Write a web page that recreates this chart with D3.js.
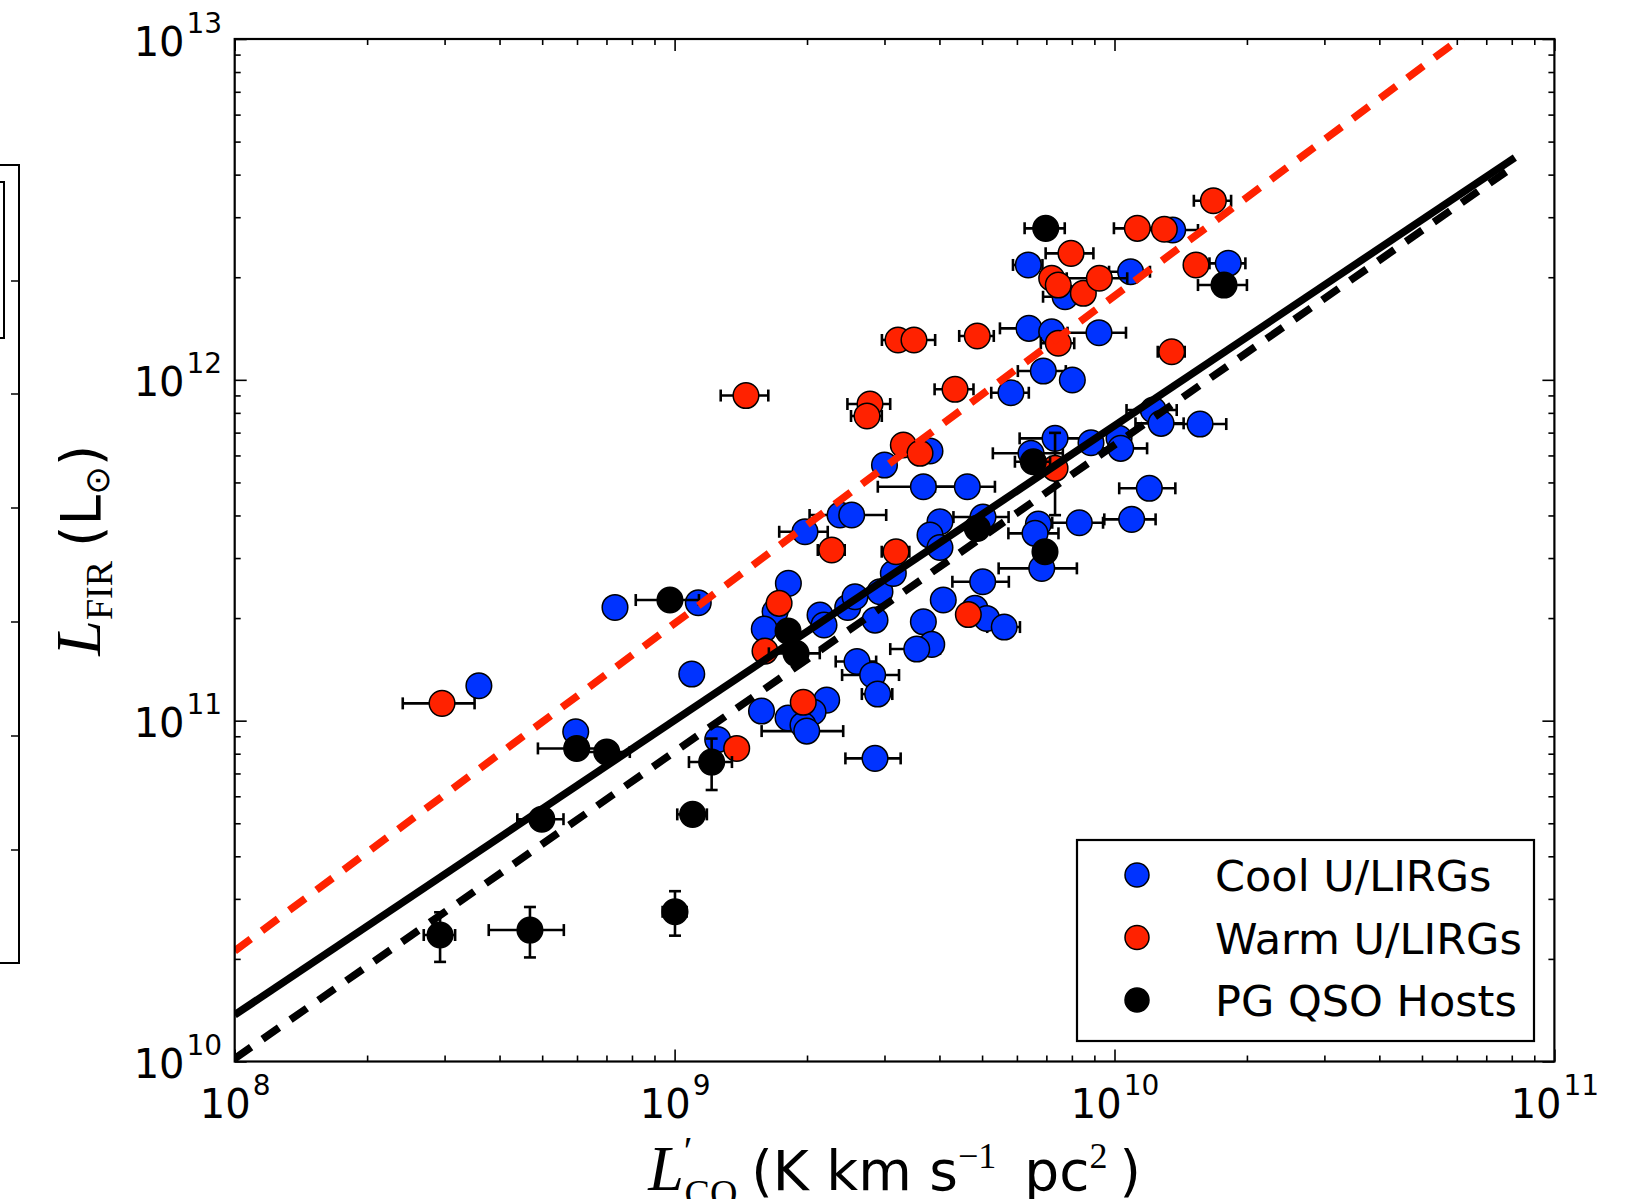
<!DOCTYPE html>
<html>
<head>
<meta charset="utf-8">
<script src="https://cdn.jsdelivr.net/npm/d3@7"></script>
<style>
  body { margin: 0; background: #fff; }
  svg { display: block; }
  text { font-family: "DejaVu Sans", sans-serif; fill: #000; }
  .serif { font-family: "Liberation Serif", "DejaVu Serif", serif; }
</style>
</head>
<body>
<div id="chart"></div>
<script>
// L'CO in units of 1e9 K km s^-1 pc^2, L_FIR in units of 1e11 Lsun, errors in the same units (0 = no bar)
const coolLco = [0.359, 0.596, 0.732, 1.132, 1.094, 1.814, 1.692, 1.599, 2.141, 2.186,
  2.475, 2.571, 2.598, 1.576, 2.217, 2.064, 1.811, 1.958, 1.997, 1.253,
  2.855, 2.82, 2.895, 2.93, 3.142, 2.855, 3.677, 3.842, 3.552, 4.081,
  4.818, 5.122, 5.616, 5.016, 4.011, 3.807, 4.011, 5.024, 1.979, 2.377,
  2.527, 3.677, 4.628, 3.0, 3.807, 6.46, 7.326, 8.843, 10.24, 10.33,
  12.25, 12.76, 15.65, 12.0, 8.318, 10.94, 6.713, 6.598, 6.833, 5.816,
  6.89, 8.02, 6.39, 7.198, 9.22, 6.368, 7.72, 10.88, 13.56, 18.14];
const coolLfir = [1.266, 0.928, 2.149, 2.218, 1.37, 2.528, 2.087, 1.857, 2.041, 1.908,
  2.149, 2.31, 1.491, 1.067, 1.149, 1.06, 1.018, 0.971, 0.932, 0.88,
  0.775, 1.361, 1.197, 2.389, 2.705, 1.973, 1.95, 1.674, 1.622, 2.259,
  2.135, 1.995, 1.882, 2.556, 3.833, 3.504, 3.221, 3.957, 3.583, 4.012,
  4.012, 4.857, 4.857, 5.623, 6.182, 6.087, 6.734, 6.537, 6.734, 6.295,
  8.154, 7.454, 7.418, 4.805, 3.808, 3.896, 3.775, 3.545, 2.798, 9.165,
  10.61, 9.986, 14.16, 13.84, 13.75, 21.73, 17.53, 20.76, 27.52, 21.97];
const coolLcoErr = [0, 0, 0, 0, 0, 0, 0, 0, 0, 0,
  0, 0, 0.274, 0, 0, 0, 0, 0, 0.42, 0,
  0.41, 0.417, 0.23, 0, 0, 0, 0, 0, 0.46, 0,
  0, 0, 0.48, 0.736, 0, 0, 0, 0.72, 0.25, 0,
  0.5, 0.78, 0.72, 0, 0, 1.17, 1.24, 0, 0, 1.53,
  1.6, 1.6, 2.3, 1.75, 1.1, 1.46, 0, 0.86, 1.38, 0.57,
  0.86, 0, 0.9, 0, 1.4, 0.49, 0.84, 1.16, 1.92, 1.7];

const warmLco = [0.296, 1.384, 1.728, 1.605, 1.961, 2.276, 3.187, 4.653, 3.311, 3.613,
  7.326, 1.453, 2.781, 2.738, 4.34, 3.22, 3.501, 4.876, 7.45, 13.49,
  7.198, 7.45, 8.495, 9.238, 7.964, 11.27, 12.98, 15.32, 16.78];
const warmLfir = [1.124, 0.829, 2.209, 1.6, 1.132, 3.168, 3.131, 2.048, 6.437, 6.087,
  5.499, 8.993, 8.492, 7.832, 9.38, 13.09, 13.09, 13.45, 12.8, 12.09,
  19.86, 18.97, 17.94, 19.86, 23.5, 27.83, 27.65, 21.73, 33.54];
const warmLcoErr = [0.055, 0, 0, 0, 0, 0.16, 0.23, 0, 0, 0,
  0, 0.18, 0.31, 0.22, 0.44, 0.26, 0.41, 0.44, 0.65, 0.95,
  0, 0, 0, 1.45, 0.99, 1.3, 0, 0, 1.63];
const warmLfirErr = [0, 0, 0, 0, 0, 0, 0, 0, 0, 0,
  1.49, 0, 0, 0, 0, 0, 0, 0, 0, 0,
  0, 0, 0, 0, 0, 0, 0, 0, 0];

const qsoLco = [0.293, 0.469, 1.002, 0.499, 0.599, 0.701, 0.976, 1.099, 1.214, 1.811,
  1.888, 4.876, 6.538, 6.95, 6.977, 17.74];
const qsoLfir = [0.235, 0.243, 0.275, 0.514, 0.829, 0.809, 2.259, 0.531, 0.756, 1.832,
  1.576, 3.667, 5.75, 3.131, 27.83, 18.97];
const qsoLcoErr = [0.024, 0.091, 0.063, 0.06, 0.11, 0.09, 0.16, 0.085, 0.136, 0,
  0.25, 0, 0.6, 0, 0.73, 2.26];
const qsoLfirErr = [0.039, 0.041, 0.041, 0, 0, 0, 0, 0, 0.13, 0,
  0, 0, 0, 0, 0, 0];

// fitted relations, end points
const fitLco = [1e8, 8.13e10];
const fitSolidBlack = [1.37e10, 4.49e12];
const fitDashedBlack = [1.02e10, 4.25e12];
const fitDashedRed = [2.11e10, 1.32e13];

const legendLabels = ["Cool U/LIRGs", "Warm U/LIRGs", "PG QSO Hosts"];
const xMajorTicks = [1e8, 1e9, 1e10, 1e11];
const yMajorTicks = [1e10, 1e11, 1e12, 1e13];

const width = 1646, height = 1199;
const plot = { left: 234.7, right: 1554.4, top: 39, bottom: 1061.5 };

const svg = d3.select("#chart").append("svg")
  .attr("width", width)
  .attr("height", height);

const x = d3.scaleLog().domain([1e8, 1e11]).range([plot.left, plot.right]);
const y = d3.scaleLog().domain([1e10, 1e13]).range([plot.bottom, plot.top]);

const isMajor = (d) => Math.abs(Math.log10(d) - Math.round(Math.log10(d))) < 1e-6;
const xMinor = x.ticks().filter((d) => !isMajor(d));
const yMinor = y.ticks().filter((d) => !isMajor(d));

// the cut-off neighbouring panel on the far left
const side = svg.append("g").attr("stroke", "#000").attr("fill", "none").attr("stroke-width", 2);
side.append("path").attr("d", "M0,165H19V963H0");
side.append("path").attr("d", "M0,182H4V338H0");
[281, 394, 508, 622, 736, 850].forEach((ty) => {
  side.append("line").attr("x1", 11).attr("x2", 19).attr("y1", ty).attr("y2", ty).attr("stroke-width", 1.5);
});

svg.append("defs").append("clipPath").attr("id", "plotclip")
  .append("rect")
  .attr("x", plot.left).attr("y", plot.top)
  .attr("width", plot.right - plot.left).attr("height", plot.bottom - plot.top);

// axes (ticks inward on every side)
function styleAxis(g) {
  g.select(".domain").remove();
  g.selectAll(".tick line").attr("stroke", "#000").attr("stroke-width", 1.6);
  g.selectAll(".tick text").remove();
}

const axes = svg.append("g");
axes.append("g").attr("transform", `translate(0,${plot.bottom})`)
  .call(d3.axisBottom(x).tickValues(xMinor).tickSize(-6)).call(styleAxis);
axes.append("g").attr("transform", `translate(0,${plot.top})`)
  .call(d3.axisTop(x).tickValues(xMinor).tickSize(-6)).call(styleAxis);
axes.append("g").attr("transform", `translate(0,${plot.top})`)
  .call(d3.axisTop(x).tickValues(xMajorTicks).tickSize(-12)).call(styleAxis);
axes.append("g").attr("transform", `translate(${plot.left},0)`)
  .call(d3.axisLeft(y).tickValues(yMinor).tickSize(-6)).call(styleAxis);
axes.append("g").attr("transform", `translate(${plot.right},0)`)
  .call(d3.axisRight(y).tickValues(yMinor).tickSize(-6)).call(styleAxis);
axes.append("g").attr("transform", `translate(${plot.right},0)`)
  .call(d3.axisRight(y).tickValues(yMajorTicks).tickSize(-12)).call(styleAxis);

const xAxis = axes.append("g").attr("transform", `translate(0,${plot.bottom})`)
  .call(d3.axisBottom(x).tickValues(xMajorTicks).tickSize(-12)).call(styleAxis);
const yAxis = axes.append("g").attr("transform", `translate(${plot.left},0)`)
  .call(d3.axisLeft(y).tickValues(yMajorTicks).tickSize(-12)).call(styleAxis);

function powerLabel(t, d) {
  t.append("tspan").text("10");
  t.append("tspan").attr("dx", 2).attr("dy", -23).style("font-size", "28px").text(Math.round(Math.log10(d)));
}

xAxis.selectAll(".tick").append("text")
  .attr("y", 56)
  .attr("text-anchor", "middle")
  .style("font-size", "40px")
  .each(function (d) { powerLabel(d3.select(this), d); });

yAxis.selectAll(".tick").append("text")
  .attr("x", -12.5)
  .attr("y", 16)
  .attr("text-anchor", "end")
  .style("font-size", "40px")
  .each(function (d) { powerLabel(d3.select(this), d); });

// data
const series = [
  { color: "#0033ff", lco: coolLco, lfir: coolLfir, dx: coolLcoErr, dy: null },
  { color: "#ff2200", lco: warmLco, lfir: warmLfir, dx: warmLcoErr, dy: warmLfirErr },
  { color: "#000000", lco: qsoLco, lfir: qsoLfir, dx: qsoLcoErr, dy: qsoLfirErr },
];

const cap = 6;
const dataLayer = svg.append("g").attr("clip-path", "url(#plotclip)");

series.forEach((s) => {
  const pts = s.lco.map((v, i) => ({
    x: v * 1e9,
    y: s.lfir[i] * 1e11,
    dx: s.dx[i] * 1e9,
    dy: s.dy ? s.dy[i] * 1e11 : 0,
  }));

  const bars = dataLayer.append("g").attr("stroke", "#000").attr("stroke-width", 2.6);
  pts.filter((d) => d.dx > 0).forEach((d) => {
    const x0 = x(d.x - d.dx), x1 = x(d.x + d.dx), yy = y(d.y);
    bars.append("line").attr("x1", x0).attr("x2", x1).attr("y1", yy).attr("y2", yy);
    bars.append("line").attr("x1", x0).attr("x2", x0).attr("y1", yy - cap).attr("y2", yy + cap);
    bars.append("line").attr("x1", x1).attr("x2", x1).attr("y1", yy - cap).attr("y2", yy + cap);
  });
  pts.filter((d) => d.dy > 0).forEach((d) => {
    const y0 = y(d.y - d.dy), y1 = y(d.y + d.dy), xx = x(d.x);
    bars.append("line").attr("x1", xx).attr("x2", xx).attr("y1", y0).attr("y2", y1);
    bars.append("line").attr("x1", xx - cap).attr("x2", xx + cap).attr("y1", y0).attr("y2", y0);
    bars.append("line").attr("x1", xx - cap).attr("x2", xx + cap).attr("y1", y1).attr("y2", y1);
  });

  dataLayer.append("g")
    .selectAll("circle")
    .data(pts)
    .enter()
    .append("circle")
    .attr("cx", (d) => x(d.x))
    .attr("cy", (d) => y(d.y))
    .attr("r", 12.8)
    .attr("fill", s.color)
    .attr("stroke", "#000")
    .attr("stroke-width", 1.5);
});

// fit lines
const fits = [
  { ys: fitDashedRed, color: "#ff2200", dash: "20,14" },
  { ys: fitSolidBlack, color: "#000", dash: null },
  { ys: fitDashedBlack, color: "#000", dash: "20,14" },
];
const line = d3.line().x((d) => x(d[0])).y((d) => y(d[1]));
fits.forEach((f) => {
  dataLayer.append("path")
    .attr("d", line(fitLco.map((v, i) => [v, f.ys[i]])))
    .attr("fill", "none")
    .attr("stroke", f.color)
    .attr("stroke-width", 7.5)
    .attr("stroke-dasharray", f.dash);
});

// frame
svg.append("rect")
  .attr("x", plot.left).attr("y", plot.top)
  .attr("width", plot.right - plot.left).attr("height", plot.bottom - plot.top)
  .attr("fill", "none").attr("stroke", "#000").attr("stroke-width", 2.2);

// legend
const legend = svg.append("g");
legend.append("rect")
  .attr("x", 1077).attr("y", 840).attr("width", 457).attr("height", 201)
  .attr("fill", "#fff").attr("stroke", "#000").attr("stroke-width", 2.2);
const legendItems = legend.selectAll(".legend")
  .data(legendLabels)
  .enter()
  .append("g")
  .attr("class", "legend")
  .attr("transform", (d, i) => `translate(1137,${875 + i * 62.5})`);
legendItems.append("circle")
  .attr("r", 12)
  .attr("fill", (d, i) => series[i].color)
  .attr("stroke", "#000")
  .attr("stroke-width", 1.5);
legendItems.append("text")
  .attr("x", 78)
  .attr("y", 16)
  .style("font-size", "43px")
  .text((d) => d);

// axis labels
const xLabel = svg.append("text")
  .attr("x", (plot.left + plot.right) / 2)
  .attr("y", 1190)
  .attr("text-anchor", "middle")
  .style("font-size", "55px");
xLabel.append("tspan").attr("class", "serif").style("font-style", "italic").style("font-size", "64px").text("L");
xLabel.append("tspan").attr("class", "serif").style("font-size", "40px").attr("dy", -26).text("′");
xLabel.append("tspan").attr("class", "serif").style("font-size", "38px").attr("dx", -8).attr("dy", 42).text("CO");
xLabel.append("tspan").attr("dx", 14).attr("dy", -16).text("(K km s");
xLabel.append("tspan").attr("class", "serif").style("font-size", "36px").attr("dy", -22).text("−1");
xLabel.append("tspan").attr("dx", 28).attr("dy", 22).text("pc");
xLabel.append("tspan").attr("class", "serif").style("font-size", "36px").attr("dy", -22).text("2");
xLabel.append("tspan").attr("dx", 12).attr("dy", 22).text(")");

const yLabel = svg.append("text")
  .attr("transform", `translate(100,${(plot.top + plot.bottom) / 2}) rotate(-90)`)
  .attr("text-anchor", "middle")
  .style("font-size", "55px");
yLabel.append("tspan").attr("class", "serif").style("font-style", "italic").style("font-size", "64px").text("L");
yLabel.append("tspan").attr("class", "serif").style("font-size", "38px").attr("dy", 12).text("FIR");
yLabel.append("tspan").attr("dx", 14).attr("dy", -12).text("(L");
yLabel.append("tspan").style("font-size", "34px").attr("dy", 9).text("⊙");
yLabel.append("tspan").attr("dy", -9).text(")");
</script>
</body>
</html>
